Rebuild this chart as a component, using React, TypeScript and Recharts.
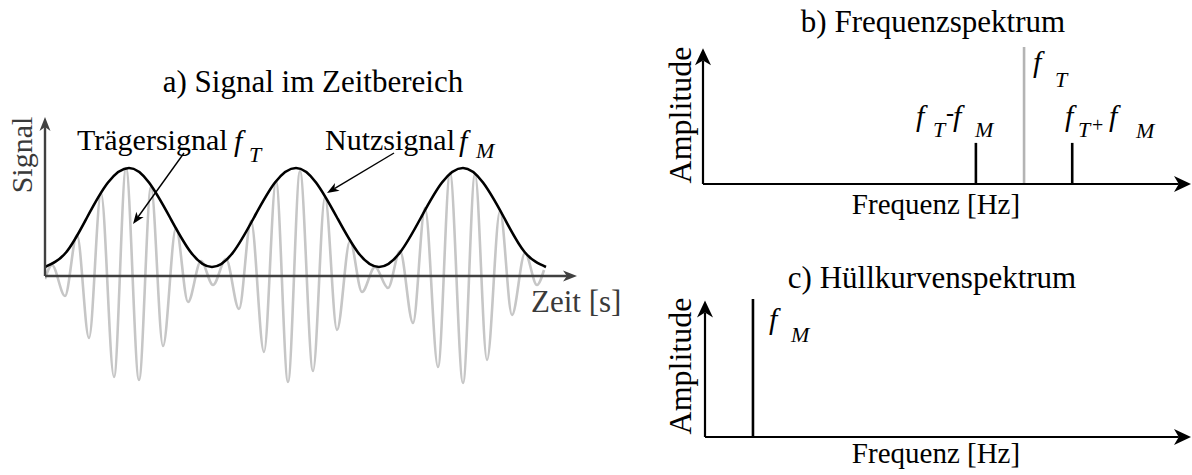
import React from "react";
import { ComposedChart, Line, ReferenceLine, XAxis, YAxis } from "recharts";

// a) time signal: t in samples, amplitude in arbitrary units
const envTime = [0, 21, 42, 63, 84, 104, 125, 146, 167, 188, 209, 230, 251, 271, 292, 313, 334, 355, 376, 397, 418, 438, 459, 480, 501];
const envValue = [
  0.09, 0.235, 0.585, 0.935, 1.08, 0.935, 0.585, 0.235,
  0.09, 0.235, 0.585, 0.935, 1.08, 0.935, 0.585, 0.235,
  0.09, 0.235, 0.585, 0.935, 1.08, 0.935, 0.585, 0.235, 0.09,
];

// carrier extrema
const carrierTime = [0, 7, 20, 32, 44, 56, 69, 81, 94, 106, 118, 131, 143, 156, 168, 181, 194, 206, 219, 231, 243, 255, 268, 280, 292, 305, 317, 330, 343, 355, 368, 380, 393, 405, 418, 430, 442, 455, 467, 480, 492, 499];
const carrierValue = [
  -0.03, 0.11, -0.2, 0.41, -0.62, 0.83, -1.01, 1.08, -1.04, 0.89, -0.7, 0.48, -0.26, 0.15, -0.09, 0.17,
  -0.33, 0.55, -0.76, 0.95, -1.06, 1.05, -0.95, 0.79, -0.54, 0.35, -0.16, 0.09, -0.12, 0.25, -0.47, 0.68,
  -0.91, 1.03, -1.07, 1.02, -0.84, 0.65, -0.39, 0.23, -0.09, 0.06,
];

// b) frequency spectrum (Hz, amplitude)
const specFreq = [85, 100, 115];
const specAmp = [0.3, 1, 0.3];
const specColor = ["#000000", "#b4b4b4", "#000000"];

// c) envelope spectrum
const envSpecFreq = [15];
const envSpecAmp = [1];

const envData = envTime.map((t, i) => ({ t, v: envValue[i] }));
const carrierData = carrierTime.map((t, i) => ({ t, v: carrierValue[i] }));

const serif = "'Liberation Serif', 'Times New Roman', serif";

function arrow(color: string, width: number, len: number, half: number) {
  return (p: any) => {
    const { x1, y1, x2, y2 } = p;
    const dx = x2 - x1;
    const dy = y2 - y1;
    const d = Math.hypot(dx, dy) || 1;
    const ux = dx / d;
    const uy = dy / d;
    const nx = -uy;
    const ny = ux;
    const bx = x2 - ux * len;
    const by = y2 - uy * len;
    const mx = x2 - ux * len * 0.72;
    const my = y2 - uy * len * 0.72;
    return (
      <g>
        <line x1={x1} y1={y1} x2={mx} y2={my} stroke={color} strokeWidth={width} />
        <polygon
          points={`${x2},${y2} ${bx + nx * half},${by + ny * half} ${mx},${my} ${bx - nx * half},${by - ny * half}`}
          fill={color}
        />
      </g>
    );
  };
}

function Spectrum({ freqs, amps, colors, width, height, margin }: any) {
  return (
    <ComposedChart width={width} height={height} margin={margin}>
      <XAxis type="number" dataKey="f" domain={[0, 152]} hide allowDataOverflow />
      <YAxis type="number" dataKey="a" domain={[0, 1]} hide allowDataOverflow />
      {freqs.map((f: number, i: number) => (
        <Line
          key={f}
          data={[
            { f, a: 0 },
            { f, a: amps[i] },
          ]}
          dataKey="a"
          type="linear"
          stroke={colors[i]}
          strokeWidth={2.6}
          dot={false}
          isAnimationActive={false}
        />
      ))}
      <ReferenceLine segment={[{ x: 0, y: 0 }, { x: 152, y: 0 }]} ifOverflow="visible" shape={arrow("#000", 2.2, 17, 8)} />
      <ReferenceLine segment={[{ x: 0, y: 0 }, { x: 0, y: 0.99 }]} ifOverflow="visible" shape={arrow("#000", 2.2, 17, 8)} />
    </ComposedChart>
  );
}

export default function App() {
  const it = { fontStyle: "italic" as const };
  return (
    <div style={{ position: "absolute", left: 0, top: 0, width: 1192, height: 475, background: "#fff", fontFamily: serif }}>
      <div style={{ position: "absolute", left: 0, top: 0 }}>
        <ComposedChart width={600} height={475} margin={{ top: 117, right: 23, bottom: 40, left: 45 }}>
          <XAxis type="number" dataKey="t" domain={[0, 532]} hide allowDataOverflow />
          <YAxis type="number" dataKey="v" domain={[-1.59, 1.59]} hide allowDataOverflow />
          <Line data={carrierData} dataKey="v" type="monotone" stroke="#c6c6c6" strokeWidth={2.6} dot={false} isAnimationActive={false} />
          <Line data={envData} dataKey="v" type="natural" stroke="#000" strokeWidth={2.6} dot={false} isAnimationActive={false} />
          <ReferenceLine segment={[{ x: 0, y: 0 }, { x: 532, y: 0 }]} ifOverflow="visible" shape={arrow("#404040", 2.4, 14, 5.5)} />
          <ReferenceLine segment={[{ x: 0, y: 0 }, { x: 0, y: 1.59 }]} ifOverflow="visible" shape={arrow("#404040", 2.4, 14, 5.5)} />
          <ReferenceLine segment={[{ x: 139, y: 1.23 }, { x: 88, y: 0.52 }]} ifOverflow="visible" shape={arrow("#000", 1.4, 12, 4.5)} />
          <ReferenceLine segment={[{ x: 349, y: 1.23 }, { x: 282, y: 0.83 }]} ifOverflow="visible" shape={arrow("#000", 1.4, 12, 4.5)} />
        </ComposedChart>
      </div>
      <div style={{ position: "absolute", left: 660, top: 0 }}>
        <Spectrum freqs={specFreq} amps={specAmp} colors={specColor} width={532} height={240} margin={{ top: 47, right: 1, bottom: 56, left: 43 }} />
      </div>
      <div style={{ position: "absolute", left: 660, top: 250 }}>
        <Spectrum freqs={envSpecFreq} amps={envSpecAmp} colors={["#000000"]} width={532} height={225} margin={{ top: 49, right: 1, bottom: 38, left: 45 }} />
      </div>
      <svg width={1192} height={475} style={{ position: "absolute", left: 0, top: 0, pointerEvents: "none" }} fontFamily={serif} fill="#000">
        {/* a */}
        <text x={313} y={92} fontSize={31} textAnchor="middle">a) Signal im Zeitbereich</text>
        <text transform="translate(32,155) rotate(-90)" fontSize={30} textAnchor="middle" fill="#3a3a3a">Signal</text>
        <text x={531} y={312} fontSize={31} fill="#3a3a3a">Zeit [s]</text>
        <text x={77} y={150} fontSize={30}>Trägersignal</text>
        <text x={234} y={151} fontSize={30} {...it}>f</text>
        <text x={249} y={162} fontSize={22} {...it}>T</text>
        <text x={325} y={150} fontSize={30}>Nutzsignal</text>
        <text x={459} y={151} fontSize={30} {...it}>f</text>
        <text x={476} y={158} fontSize={22} {...it}>M</text>
        {/* b */}
        <text x={933} y={32} fontSize={31} textAnchor="middle">b) Frequenzspektrum</text>
        <text transform="translate(691,115) rotate(-90)" fontSize={32} textAnchor="middle">Amplitude</text>
        <text x={936} y={214} fontSize={29} textAnchor="middle">Frequenz [Hz]</text>
        <text x={1033} y={72} fontSize={30} {...it}>f</text>
        <text x={1055} y={87} fontSize={22} {...it}>T</text>
        <text x={916} y={126} fontSize={30} {...it}>f</text>
        <text x={933} y={137} fontSize={22} {...it}>T</text>
        <text x={946} y={121} fontSize={24} fontWeight="bold">-</text>
        <text x={953} y={126} fontSize={30} {...it}>f</text>
        <text x={975} y={137} fontSize={22} {...it}>M</text>
        <text x={1065} y={126} fontSize={30} {...it}>f</text>
        <text x={1078} y={137} fontSize={22} {...it}>T</text>
        <text x={1092} y={132} fontSize={20}>+</text>
        <text x={1109} y={126} fontSize={30} {...it}>f</text>
        <text x={1136} y={138} fontSize={22} {...it}>M</text>
        {/* c */}
        <text x={932} y={288} fontSize={31} textAnchor="middle">c) Hüllkurvenspektrum</text>
        <text transform="translate(691,366) rotate(-90)" fontSize={32} textAnchor="middle">Amplitude</text>
        <text x={936} y={463} fontSize={29} textAnchor="middle">Frequenz [Hz]</text>
        <text x={769} y={329} fontSize={30} {...it}>f</text>
        <text x={791} y={342} fontSize={22} {...it}>M</text>
      </svg>
    </div>
  );
}
